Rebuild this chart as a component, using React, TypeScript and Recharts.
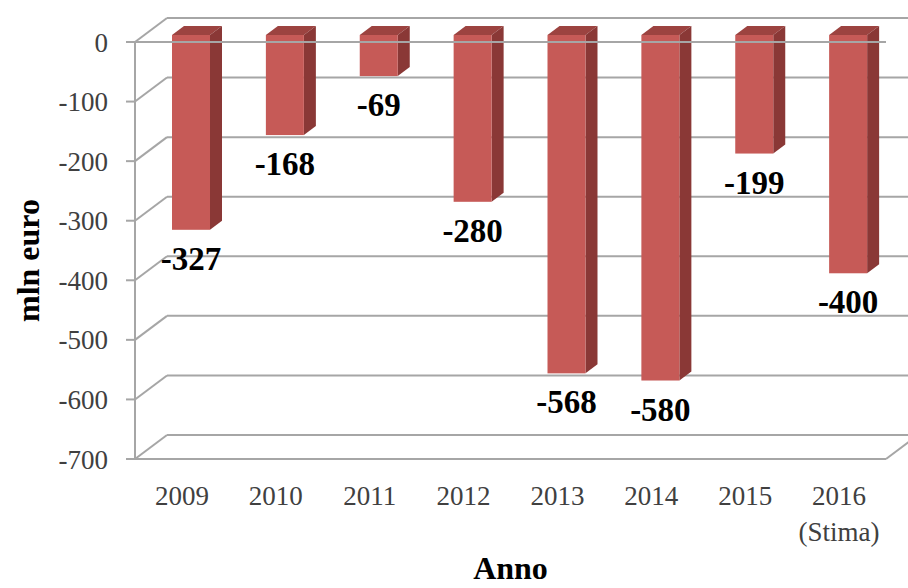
import React from 'react';
import { BarChart, Bar, XAxis, YAxis, CartesianGrid, LabelList, Label, ReferenceLine } from 'recharts';

const years = ['2009', '2010', '2011', '2012', '2013', '2014', '2015', '2016'];
const yearNotes = ['', '', '', '', '', '', '', '(Stima)'];
const saldo = [-327, -168, -69, -280, -568, -580, -199, -400];
const yTicks = [0, -100, -200, -300, -400, -500, -600, -700];

const data = years.map((year, i) => ({ year, note: yearNotes[i], value: saldo[i] }));

const FONT = '"Liberation Serif", "Times New Roman", serif';
const GRID = '#a6a6a6';
const DX = 32; // depth of the walls
const DY = -24;
const BX = 9; // where the bar front sits inside the depth
const BY = -7;
const SX = 12; // bar depth
const SY = -9;

// back wall line + diagonal on the side wall for every tick
const wallLine = (props: any) => {
  const { x1, x2, y1, y, height, index } = props;
  const isFloor = Math.abs(y1 - (y + height)) < 1;
  return (
    <g key={`wall-${index}`} stroke={GRID} strokeWidth={2} fill="none">
      <line x1={x1} y1={y1} x2={x1 + DX} y2={y1 + DY} />
      <line x1={x1 + DX} y1={y1 + DY} x2={x2 + DX} y2={y1 + DY} />
      {isFloor && <line x1={x1} y1={y1} x2={x2} y2={y1} />}
      {isFloor && <line x1={x2} y1={y1} x2={x2 + DX} y2={y1 + DY} />}
    </g>
  );
};

const Bar3D = (props: any) => {
  const { x, y, width, height } = props;
  const top = Math.min(y, y + height) + BY;
  const bottom = Math.max(y, y + height) + BY;
  const l = x + BX;
  const r = l + width;
  return (
    <g>
      <polygon points={`${l},${top} ${l + SX},${top + SY} ${r + SX},${top + SY} ${r},${top}`} fill="#9c4340" />
      <polygon points={`${r},${top} ${r + SX},${top + SY} ${r + SX},${bottom + SY} ${r},${bottom}`} fill="#8a3836" />
      <rect x={l} y={top} width={width} height={bottom - top} fill="#c65a57" />
    </g>
  );
};

const valueLabel = (props: any) => {
  const { x, y, width, height, value } = props;
  const bottom = Math.max(y, y + height);
  return (
    <text x={x + BX + width / 2} y={bottom + 33} textAnchor="middle" fontFamily={FONT} fontWeight="bold" fontSize={33} fill="#000">
      {value}
    </text>
  );
};

const YearTick = (props: any) => {
  const { x, y, payload, index } = props;
  const note = yearNotes[index];
  return (
    <text x={x} y={y + 46} textAnchor="middle" fontFamily={FONT} fontSize={27} fill="#404040">
      <tspan x={x}>{payload.value}</tspan>
      {note && <tspan x={x} dy={36}>{note}</tspan>}
    </text>
  );
};

const yTitle = (props: any) => {
  const { x, y, height } = props.viewBox;
  const cx = x + 28;
  const cy = y + height / 2 + 10;
  return (
    <text x={cx} y={cy} transform={`rotate(-90 ${cx} ${cy})`} textAnchor="middle" dominantBaseline="central" fontFamily={FONT} fontWeight="bold" fontSize={32} fill="#000">
      mln euro
    </text>
  );
};

const xTitle = (props: any) => {
  const { x, y, width, height } = props.viewBox;
  return (
    <text x={x + width / 2} y={y + height - 9} textAnchor="middle" fontFamily={FONT} fontWeight="bold" fontSize={32} fill="#000">
      Anno
    </text>
  );
};

export default function App() {
  return (
    <div style={{ position: 'absolute', left: 0, top: 0, background: '#fff' }}>
      <BarChart width={908} height={588} data={data} margin={{ top: 42, right: 22, bottom: 0, left: 0 }}>
        <CartesianGrid vertical={false} horizontal={wallLine} />
        <XAxis dataKey="year" height={129} axisLine={false} tickLine={false} tickSize={0} tickMargin={0} interval={0} tick={<YearTick />}>
          <Label content={xTitle} />
        </XAxis>
        <YAxis
          width={135}
          domain={[-700, 0]}
          ticks={yTicks}
          interval={0}
          tickSize={9}
          tickMargin={18}
          axisLine={{ stroke: GRID, strokeWidth: 2 }}
          tickLine={{ stroke: GRID, strokeWidth: 2 }}
          tick={{ fontFamily: FONT, fontSize: 27, fill: '#404040' }}
        >
          <Label content={yTitle} />
        </YAxis>
        <Bar dataKey="value" barSize={38} fill="#c65a57" shape={<Bar3D />} isAnimationActive={false}>
          <LabelList dataKey="value" content={valueLabel} />
        </Bar>
        <ReferenceLine y={0} stroke={GRID} strokeWidth={2} />
      </BarChart>
    </div>
  );
}
